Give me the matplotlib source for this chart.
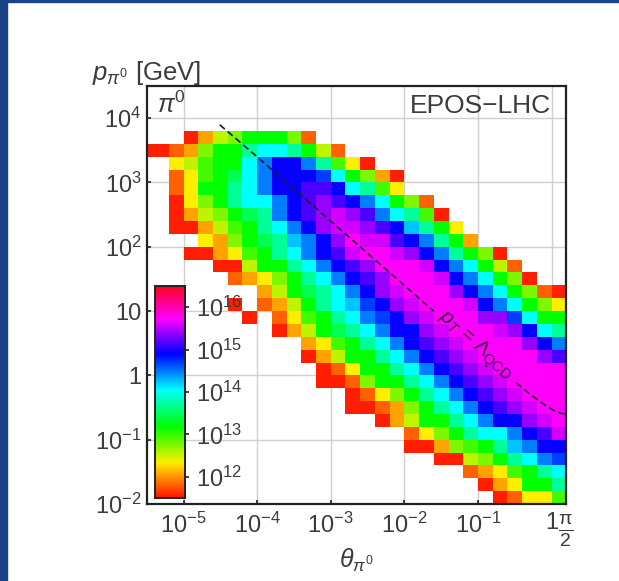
import matplotlib
matplotlib.use("Agg")
import matplotlib.pyplot as plt
import numpy as np
from matplotlib.colors import LinearSegmentedColormap
from matplotlib.patches import Rectangle

plt.rcParams["font.family"] = ["Liberation Sans", "DejaVu Sans"]
plt.rcParams["mathtext.fontset"] = "custom"
plt.rcParams["mathtext.rm"] = "Liberation Sans"
plt.rcParams["mathtext.it"] = "Liberation Sans:italic"
plt.rcParams["mathtext.default"] = "regular"

W, H = 619, 581
TXT = "#3c3c3c"

# log10 of the colour value for each letter used in the cells below
levels = {"R": 11.55, "r": 11.8, "O": 12.05, "Y": 12.33, "l": 12.55, "L": 12.75,
          "g": 12.96, "G": 13.17, "s": 13.45, "S": 13.7, "C": 14.05, "a": 14.25,
          "A": 14.47, "b": 14.7, "B": 14.9, "I": 15.15, "P": 15.4, "V": 15.6, "M": 15.74}

# top row first; first_col = column of the first letter
first_col = [3, 0, 2, 2, 2, 2, 2, 2, 4, 3, 5, 6, 8, 6, 7, 9, 11, 11, 12, 12, 14, 14, 16, 18, 18, 20, 22, 23, 24]
row_cells = [
    "ROlLGGGLr",
    "RRrOLGGSCCSGlr",
    "YlgGGCABBASgYR",
    "rYgGsCABBBbCGLOR",
    "rYGGSCABBIIBCSgY",
    "RYLGSCCABIPIBACGLr",
    "ROlLGsSABIPVPIACSgR",
    "RROlgGSCABPVVPIBaSGY",
    "YOLGsSaABPMVVIBASGO",
    "RROYgGSCABIVMMVPBASGLR",
    "RRlGGSCABIPMMMVBACGlr",
    "rOYLGSCABIPMMMVBACGLR",
    "OlGsSCABPVMMMPBACGLrR",
    "R.rOlGSCabBPVMMMVBACGLY",
    "R.rYgGSCAbBPVMMMPPbCGG",
    "ROlGsSCABBPVMMMVPBCS",
    "OYgGSCABIPVMMMMPBA",
    "ROlGGSCABIPVMMMMPI",
    "RrYGGSCABIPVMMMMM",
    "RRrLGGSCABIPVMMMM",
    "RrYLGSCABIPVMMM",
    "RRrOLGSCABIPVMM",
    "ROlGGSCABBPVM",
    "rYLGSCCABIV",
    "RROLgGSaABB",
    "RRlLGSCAb",
    "rOYgGSC",
    "ROYGGS",
    "RrYYg",
]

x_ticks = [1e-5, 1e-4, 1e-3, 1e-2, 1e-1, 1, np.pi / 2]
x_labels = ["$10^{-5}$", "$10^{-4}$", "$10^{-3}$", "$10^{-2}$", "$10^{-1}$", "1", r"$\frac{\pi}{2}$"]
y_ticks = [1e-2, 1e-1, 1, 10, 1e2, 1e3, 1e4]
y_labels = ["$10^{-2}$", "$10^{-1}$", "1", "10", "$10^{2}$", "$10^{3}$", "$10^{4}$"]
cb_ticks = [12, 13, 14, 15, 16]
cb_labels = ["$10^{12}$", "$10^{13}$", "$10^{14}$", "$10^{15}$", "$10^{16}$"]

# dashed pT line, before and after the gap for its label
line_theta_a = [3.1e-5, 1e-4, 1e-3, 1e-2, 2.5e-2]
line_p_a = [7900, 2500, 250, 25, 10]
line_theta_b = [0.33, 0.5, 0.8, 1.1, 1.3, np.pi / 2]
line_p_b = [0.77, 0.52, 0.35, 0.28, 0.26, 0.25]

stops = [(11.5, "#ff1400"), (12.0, "#ff9600"), (12.33, "#fff000"), (13.17, "#00ff00"),
         (14.05, "#00ffff"), (14.9, "#0000ff"), (15.74, "#ff00ff"), (16.5, "#ff001e")]
vmin, vmax = 11.5, 16.5
cmap = LinearSegmentedColormap.from_list(
    "rainbow_read", [((v - vmin) / (vmax - vmin), c) for v, c in stops])

nrow = len(row_cells)
ncol = 29
grid = np.full((nrow, ncol), np.nan)
for i in range(nrow):
    r = nrow - 1 - i
    for j, ch in enumerate(row_cells[i]):
        if ch != ".":
            grid[r, first_col[i] + j] = levels[ch]

x_edges = 10.0 ** (-5.6 + 0.2 * np.arange(ncol + 1))
y_edges = 10.0 ** (-2 + 0.2 * np.arange(nrow + 1))

fig = plt.figure(figsize=(W / 100, H / 100), dpi=100)
fig.patches.append(Rectangle((0, 0), 7 / W, 1, transform=fig.transFigure, color="#1a4388"))
fig.patches.append(Rectangle((0, 1 - 2 / H), 1, 2 / H, transform=fig.transFigure, color="#1a4388"))

ax = fig.add_axes([147 / W, 1 - 504 / H, 419 / W, 418 / H])
ax.set_xscale("log")
ax.set_yscale("log")
ax.pcolormesh(x_edges, y_edges, np.ma.masked_invalid(grid), cmap=cmap, vmin=vmin, vmax=vmax,
              linewidth=0, rasterized=True, zorder=2)
ax.set_xlim(10 ** -5.497, np.pi / 2)
ax.set_ylim(1e-2, 10 ** 4.5)
ax.minorticks_off()
ax.set_xticks(x_ticks, x_labels, fontsize=17, color=TXT)
ax.set_yticks(y_ticks, y_labels, fontsize=17, color=TXT)
ax.tick_params(axis="y", direction="in", length=3, width=1.2, color="#222222", pad=4)
ax.tick_params(axis="x", direction="in", length=3, width=1.2, color="#222222", pad=6)
ax.get_xticklabels()[-1].set_fontsize(20)
ax.grid(True, color="#cfcfcf", linewidth=1, zorder=1)
ax.set_axisbelow(True)
for s in ax.spines.values():
    s.set_linewidth(1.6)
    s.set_color("#222222")
    s.set_zorder(5)

ax.plot(line_theta_a, line_p_a, color="#1a1a2a", lw=1.2, ls=(0, (4, 2.2)), zorder=3)
ax.plot(line_theta_b, line_p_b, color="#1a1a2a", lw=1.2, ls=(0, (4, 2.2)), zorder=3)

fig.text(475 / W, 1 - 345 / H, r"$\mathit{p_T}$ = $\Lambda_{QCD}$", fontsize=15, color="#3a1040",
         rotation=-41, ha="center", va="center", rotation_mode="anchor", zorder=6)
fig.text(157 / W, 1 - 113 / H, r"$\mathit{\pi}^{0}$", fontsize=18, color=TXT, zorder=6)
fig.text(410 / W, 1 - 113 / H, "EPOS\u2212LHC", fontsize=19, color=TXT, zorder=6)
fig.text(92 / W, 1 - 80 / H, r"$\mathit{p}_{\mathit{\pi}^{0}}$ [GeV]", fontsize=18.5, color=TXT)
fig.text(356 / W, 1 - 568 / H, r"$\mathit{\theta}_{\mathit{\pi}^{0}}$", fontsize=18, color=TXT, ha="center")

cax = fig.add_axes([155 / W, 1 - 498 / H, 30 / W, 212 / H], zorder=4)
cb_vals = np.linspace(vmin, vmax, 256).reshape(-1, 1)
cax.imshow(cb_vals, origin="lower", aspect="auto", cmap=cmap, extent=[0, 1, vmin, vmax])
cax.set_xticks([])
cax.yaxis.tick_right()
cax.set_yticks(cb_ticks, cb_labels, fontsize=17, color=TXT)
cax.tick_params(axis="y", direction="out", length=3, width=1.2, color="#222222", pad=5)
for s in cax.spines.values():
    s.set_linewidth(1.4)
    s.set_color("#222222")

fig.savefig("out.png", dpi=100)
